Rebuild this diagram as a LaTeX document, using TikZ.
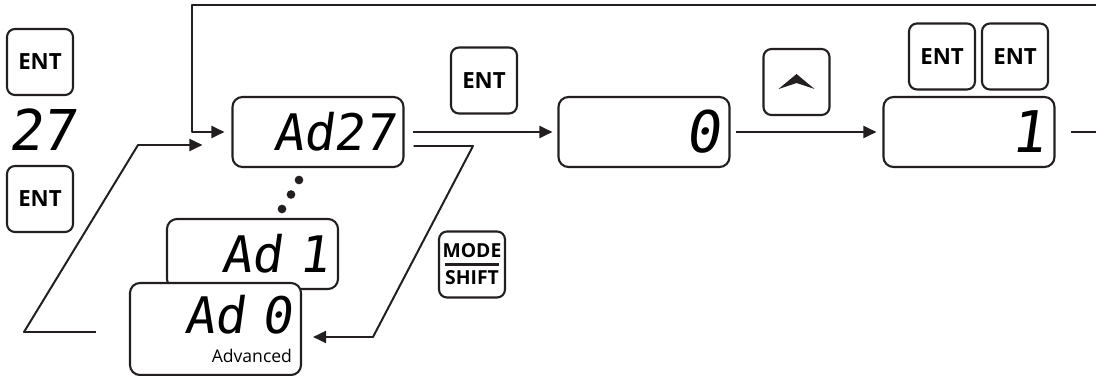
\documentclass[tikz,border=0pt]{standalone}
\usepackage{fontspec}
\usepackage{tikz}
\usetikzlibrary{arrows.meta}
\setsansfont{Open Sans}
\newfontfamily\lcdfont{DejaVu Sans Mono}[FakeSlant=0.14]
\definecolor{panelline}{RGB}{35,31,32}

\begin{document}
\begin{tikzpicture}[
    x=0.03cm, y=-0.03cm,
    line join=round,
    lcd/.style={draw=panelline, fill=white, rounded corners=0.3cm, line width=1.8pt,
      minimum height=2.1cm, inner xsep=0.27cm, inner ysep=0pt, text width=4.59cm,
      align=right, font=\lcdfont\fontsize{43}{43}\selectfont},
    bigdigit/.style={font=\lcdfont\fontsize{49}{49}\selectfont},
    key/.style={draw=panelline, fill=white, rounded corners=0.24cm, line width=1.8pt,
      minimum width=1.98cm, minimum height=1.98cm, inner sep=0pt,
      font=\sffamily\bfseries\fontsize{19}{21}\selectfont},
    link/.style={draw=panelline, line width=1.7pt},
    flow/.style={link, -{Triangle[length=0.39cm,width=0.36cm]}}
  ]
  \useasboundingbox (0,0) rectangle (1096,376);

  % keys
  \node[key] (entA) at (40,62) {ENT};
  \node[font=\lcdfont\fontsize{48}{48}\selectfont, inner sep=0pt] (num27) at (42,130) {27};
  \node[key] (entB) at (40,199) {ENT};
  \node[key] (entC) at (484,80.5) {ENT};
  \node[key] (upkey) at (796.5,82) {};
  \node[key] (entD) at (942,56.5) {ENT};
  \node[key] (entE) at (1015,56.5) {ENT};
  \node[key, align=center, font=\sffamily\bfseries\fontsize{16.5}{23}\selectfont] (modekey) at (472,264.5) {MODE\\SHIFT};
  \fill[panelline, shift={(upkey.center)}] (-18,7) -- (0,-8) -- (18,7) -- (0,1) -- cycle;
  \draw[panelline, line width=0.09cm] ([xshift=-0.81cm]modekey.center) -- ([xshift=0.81cm]modekey.center);

  % displays
  \node[lcd] (disp27) at (318,132) {Ad27};
  \node[lcd, bigdigit] (dispzero) at (644,132) {0};
  \node[lcd, bigdigit] (dispone) at (969,132) {1};
  \node[lcd] (dispad1) at (252.5,254) {Ad\ 1};
  \node[lcd, minimum height=2.76cm] (dispad0) at (215.5,329)
    {Ad\ 0\\[-18pt]{\sffamily\fontsize{15}{15}\selectfont Advanced}};
  \foreach \dx/\dy in {299/180, 291/194.5, 282/209}
    \fill[panelline] (\dx,\dy) circle[radius=0.13cm];

  % connectors
  \coordinate (loopR) at (1096,5);
  \coordinate (loopL) at (192,5);
  \coordinate (retB) at (24,332);
  \coordinate (retC) at (138,145);
  \coordinate (modeA) at (473,146);
  \coordinate (modeB) at (373,337);
  \coordinate (outR) at (1096,132);
  \draw[flow, shorten >=0.21cm] (loopR) -- (loopL) |- (disp27.west);
  \draw[flow, shorten <=0.99cm, shorten >=0.87cm] ([yshift=-0.09cm]dispad0.west) -- (retB) -- (retC) -- ([yshift=-0.39cm]disp27.west);
  \draw[flow, shorten <=0.27cm, shorten >=0.33cm] ([yshift=-0.42cm]disp27.east) -- (modeA) -- (modeB) -- ([yshift=-0.24cm]dispad0.east);
  \draw[flow, shorten <=0.24cm, shorten >=0.15cm] (disp27) -- (dispzero);
  \draw[flow, shorten <=0.15cm, shorten >=0.18cm] (dispzero) -- (dispone);
  \draw[link, shorten <=0.45cm] (dispone) -- (outR);
\end{tikzpicture}
\end{document}
